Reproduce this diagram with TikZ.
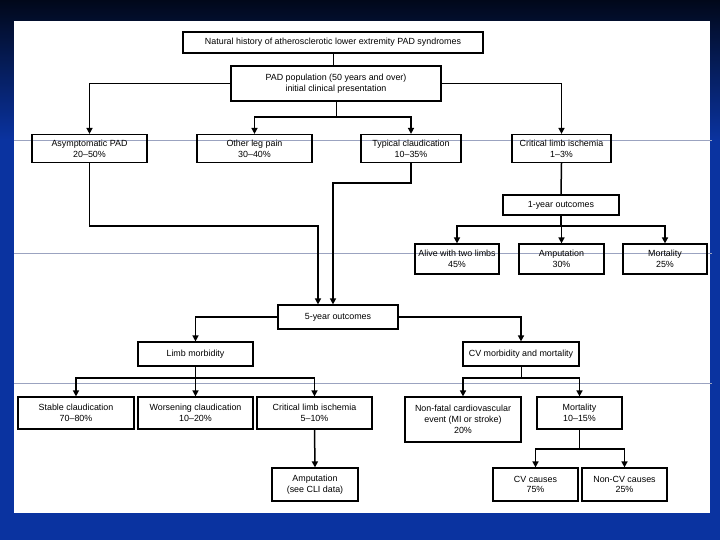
\documentclass[tikz,border=0pt]{standalone}
\usepackage{fontspec}
\setmainfont{Liberation Sans}
\usetikzlibrary{arrows.meta,calc}
\definecolor{bgblue}{HTML}{0A33A0}
\definecolor{bgdark}{HTML}{01081A}
\definecolor{faint}{HTML}{9BA3C0}
\begin{document}
\begin{tikzpicture}[x=1pt,y=-1pt,
  box/.style={draw=black,line width=1.2pt,inner sep=0pt,align=center,
    font=\fontsize{8.9}{10.8}\selectfont,text=black},
  conn/.style={draw=black,line width=1.5pt},
  stem/.style={draw=black,line width=1pt},
  arr/.style={conn,-{Triangle[length=6pt,width=6pt]}}]
\useasboundingbox (0,0) rectangle (720,540);
% background
\fill[bgblue] (0,0) rectangle (720,540);
\shade[top color=bgdark,bottom color=bgblue] (0,0) rectangle (720,140);
\fill[white] (14,21) rectangle (710,513);
% faint slide lines
\foreach \yy in {140,253,383} \draw[faint,line width=0.6pt] (14,\yy) -- (712,\yy);
% boxes
\node[box,minimum width=300,minimum height=21] (title) at (333,42.5) {Natural history of atherosclerotic lower extremity PAD syndromes};
\node[box,minimum width=210,minimum height=35] (pad) at (336,83.5) {PAD population (50 years and over)\\initial clinical presentation};
\node[box,minimum width=115,minimum height=28] (asym) at (89.5,148.5) {Asymptomatic PAD\\20--50\%};
\node[box,minimum width=115,minimum height=28] (other) at (254.5,148.5) {Other leg pain\\30--40\%};
\node[box,minimum width=100,minimum height=28] (typ) at (411,148.5) {Typical claudication\\10--35\%};
\node[box,minimum width=99,minimum height=28] (cli) at (561.5,148.5) {Critical limb ischemia\\1--3\%};
\node[box,minimum width=116,minimum height=20] (oneyr) at (561,205) {1-year outcomes};
\node[box,minimum width=84,minimum height=30] (alive) at (457,259) {Alive with two limbs\\45\%};
\node[box,minimum width=85,minimum height=30] (amp) at (561.5,259) {Amputation\\30\%};
\node[box,minimum width=84,minimum height=30] (mort) at (665,259) {Mortality\\25\%};
\node[box,minimum width=120,minimum height=24] (five) at (338,317) {5-year outcomes};
\node[box,minimum width=115,minimum height=24] (limb) at (195.5,354) {Limb morbidity};
\node[box,minimum width=116,minimum height=24] (cv) at (521,354) {CV morbidity and mortality};
\node[box,minimum width=116,minimum height=32] (stable) at (76,413) {Stable claudication\\70--80\%};
\node[box,minimum width=115,minimum height=32] (worse) at (195.5,413) {Worsening claudication\\10--20\%};
\node[box,minimum width=115,minimum height=32] (cli2) at (314.5,413) {Critical limb ischemia\\5--10\%};
\node[box,minimum width=116,minimum height=45] (nonfatal) at (463,419.5) {Non-fatal cardiovascular\\event (MI or stroke)\\20\%};
\node[box,minimum width=85,minimum height=32] (mort2) at (579.5,413) {Mortality\\10--15\%};
\node[box,minimum width=86,minimum height=33] (amp2) at (315,484.5) {Amputation\\(see CLI data)};
\node[box,minimum width=85,minimum height=33] (cvc) at (535.5,484.5) {CV causes\\75\%};
\node[box,minimum width=85,minimum height=33] (noncv) at (624.5,484.5) {Non-CV causes\\25\%};
% junction coordinates
\coordinate (j1) at (pad.south |- 0,117);
\coordinate (j2) at (oneyr.south |- 0,226);
\coordinate (j3) at (limb.south |- 0,378);
\coordinate (j4) at (cv.south |- 0,378);
\coordinate (j5) at (mort2.south |- 0,449);
\coordinate (f1) at ([xshift=-20pt]five.north);
\coordinate (f2) at ([xshift=-5pt]five.north);
% connectors
\draw[stem] (title.south) -- (title.south |- pad.north);
\draw[arr] (pad.west) -| (asym.north);
\draw[arr] (pad.east) -| (cli.north);
\draw[stem] (pad.south) -- (j1);
\draw[arr] (j1) -| (other.north);
\draw[arr] (j1) -| (typ.north);
\draw[arr] (asym.south) |- (f1 |- 0,226) -- (f1);
\draw[arr] (typ.south) |- (f2 |- 0,183) -- (f2);
\draw[conn] (cli.south) -- (oneyr.north);
\draw[conn] (oneyr.south) -- (j2);
\draw[arr] (j2) -| (alive.north);
\draw[arr] (j2) -| (amp.north);
\draw[arr] (j2) -| (mort.north);
\draw[arr] (five.west) -| (limb.north);
\draw[arr] (five.east) -| (cv.north);
\draw[conn] (limb.south) -- (j3);
\draw[arr] (j3) -| (stable.north);
\draw[arr] (j3) -| (worse.north);
\draw[arr] (j3) -| (cli2.north);
\draw[stem] (cv.south) -- (j4);
\draw[arr] (j4) -| (nonfatal.north);
\draw[arr] (j4) -| (mort2.north);
\draw[arr] (cli2.south) -- (amp2.north);
\draw[stem] (mort2.south) -- (j5);
\draw[arr] (j5) -| (cvc.north);
\draw[arr] (j5) -| (noncv.north);
\end{tikzpicture}
\end{document}
